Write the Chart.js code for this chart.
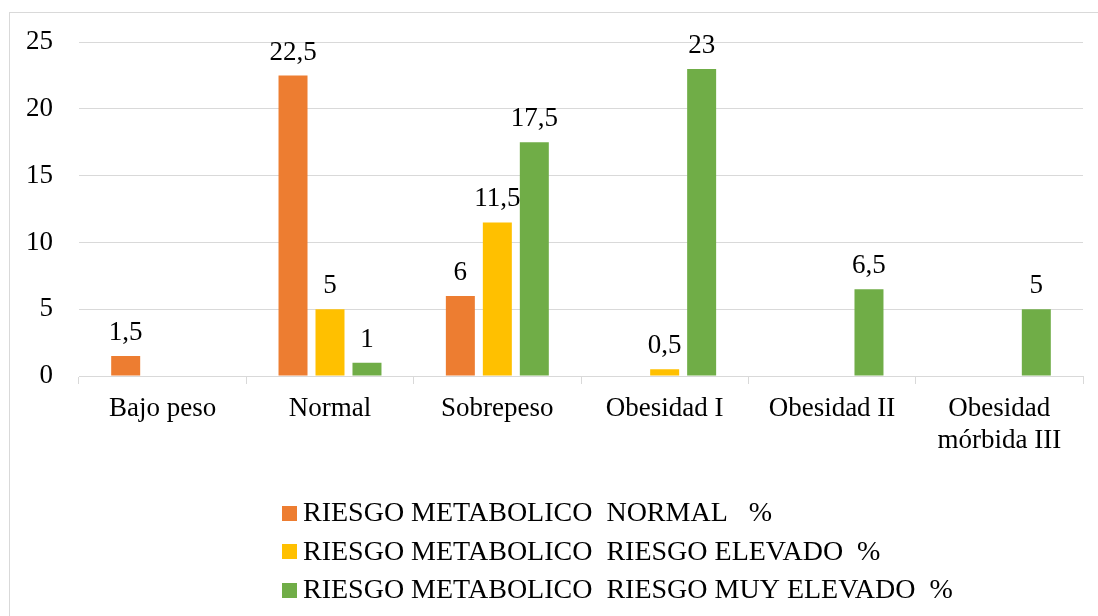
<!DOCTYPE html>
<html>
<head>
<meta charset="utf-8">
<script src="https://cdn.jsdelivr.net/npm/chart.js@4.4.1/dist/chart.umd.min.js"></script>
<style>
  html, body { margin: 0; padding: 0; background: #ffffff; }
  #wrap { width: 1098px; height: 616px; }
</style>
</head>
<body>
<div id="wrap"><canvas id="c" width="1098" height="616"></canvas></div>
<script>
// IMC categories on the x axis
const categories = ['Bajo peso', 'Normal', 'Sobrepeso', 'Obesidad I', 'Obesidad II', ['Obesidad', 'mórbida III']];

// Percentages per metabolic risk group (null = no bar / no label)
const riesgoNormal     = [1.5, 22.5, 6, null, null, null];
const riesgoElevado    = [null, 5, 11.5, 0.5, null, null];
const riesgoMuyElevado = [null, 1, 17.5, 23, 6.5, 5];

const seriesNames = [
  'RIESGO METABOLICO  NORMAL   %',
  'RIESGO METABOLICO  RIESGO ELEVADO  %',
  'RIESGO METABOLICO  RIESGO MUY ELEVADO  %'
];

const yTicks = [0, 5, 10, 15, 20, 25];

const FONT = '"Liberation Serif", "Times New Roman", serif';
const GRID = '#d9d9d9';

// Light frame around the whole chart
const framePlugin = {
  id: 'frame',
  beforeDraw(chart) {
    const ctx = chart.ctx;
    ctx.save();
    ctx.strokeStyle = GRID;
    ctx.lineWidth = 1;
    ctx.strokeRect(9.5, 12.5, chart.width + 10, chart.height + 10);
    ctx.restore();
  }
};

// Value labels above each bar, with decimal comma
const valueLabels = {
  id: 'valueLabels',
  afterDatasetsDraw(chart) {
    const ctx = chart.ctx;
    ctx.save();
    ctx.font = '27px ' + FONT;
    ctx.fillStyle = '#000000';
    ctx.textAlign = 'center';
    ctx.textBaseline = 'alphabetic';
    chart.data.datasets.forEach((ds, i) => {
      const meta = chart.getDatasetMeta(i);
      meta.data.forEach((bar, j) => {
        const v = ds.data[j];
        if (v === null || v === undefined) return;
        ctx.fillText(String(v).replace('.', ','), bar.x, bar.y - 16);
      });
    });
    ctx.restore();
  }
};

// Vertical legend under the axis labels
const stackedLegend = {
  id: 'stackedLegend',
  afterDraw(chart) {
    const ctx = chart.ctx;
    const left = 282, firstRow = 513, rowGap = 38.5, box = 15;
    ctx.save();
    ctx.font = '28px ' + FONT;
    ctx.textBaseline = 'middle';
    ctx.textAlign = 'left';
    chart.data.datasets.forEach((ds, i) => {
      const cy = firstRow + i * rowGap;
      ctx.fillStyle = ds.backgroundColor;
      ctx.fillRect(left, Math.round(cy - box / 2), box, box);
      ctx.fillStyle = '#000000';
      ctx.fillText(ds.label, left + box + 6, cy + 1);
    });
    ctx.restore();
  }
};

new Chart(document.getElementById('c'), {
  type: 'bar',
  data: {
    labels: categories,
    datasets: [
      { label: seriesNames[0], data: riesgoNormal,     backgroundColor: '#ED7D31' },
      { label: seriesNames[1], data: riesgoElevado,    backgroundColor: '#FFC000' },
      { label: seriesNames[2], data: riesgoMuyElevado, backgroundColor: '#70AD47' }
    ]
  },
  options: {
    responsive: false,
    animation: false,
    devicePixelRatio: 1,
    layout: { padding: { top: 41, left: 0, right: 15, bottom: 140 } },
    datasets: {
      bar: { categoryPercentage: 0.663, barPercentage: 0.784 }
    },
    plugins: {
      legend: { display: false },
      tooltip: { enabled: false }
    },
    scales: {
      x: {
        grid: {
          display: true,
          drawOnChartArea: false,
          drawTicks: true,
          tickLength: 8,
          color: GRID,
          offset: true
        },
        border: { display: true, color: GRID, width: 1 },
        ticks: {
          color: '#000000',
          font: { family: FONT, size: 27, lineHeight: 1.185 },
          padding: 9,
          maxRotation: 0,
          autoSkip: false
        },
        afterFit(scale) { scale.height = 100; }
      },
      y: {
        min: 0,
        max: 25,
        afterBuildTicks(scale) { scale.ticks = yTicks.map(v => ({ value: v })); },
        grid: { color: GRID, lineWidth: 1, drawTicks: false },
        border: { display: false },
        ticks: {
          color: '#000000',
          font: { family: FONT, size: 27 },
          padding: 26
        },
        afterFit(scale) { scale.width = 79; }
      }
    }
  },
  plugins: [framePlugin, valueLabels, stackedLegend]
});
</script>
</body>
</html>
